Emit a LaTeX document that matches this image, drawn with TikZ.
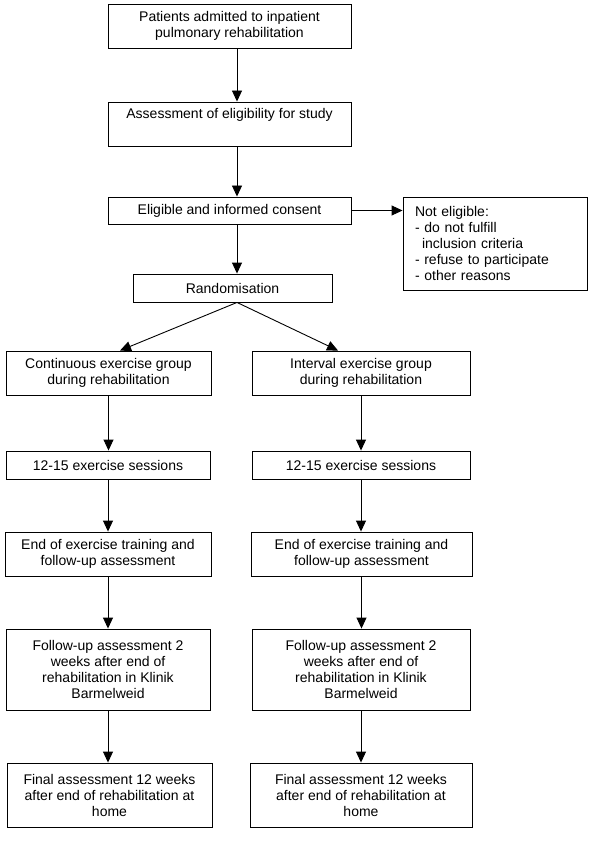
\documentclass[tikz,border=0pt]{standalone}
\usepackage{fontspec}
\setmainfont{Liberation Sans}
\usetikzlibrary{arrows.meta,calc}
\begin{document}
\begin{tikzpicture}[x=1pt,y=-1pt,
  box/.style={draw=black,line width=0.9pt,rectangle,inner sep=0pt,align=center,
    font=\fontsize{14}{16}\selectfont,text=black},
  arr/.style={draw=black,line width=0.9pt,-{Triangle[width=10pt,length=11pt]}}]
\useasboundingbox[fill=white] (0,0) rectangle (600,850);
% top column
\node[box,minimum width=243pt,minimum height=44pt] (b1) at (229.5,26)
  {Patients admitted to inpatient\\pulmonary rehabilitation};
\node[box,minimum width=243pt,minimum height=44pt] (b2) at (229.5,124)
  {Assessment of eligibility for study\\\strut};
\node[box,minimum width=243pt,minimum height=27pt] (b3) at (229.5,210.5)
  {Eligible and informed consent};
\node[box,align=left,text width=160pt,minimum width=184pt,minimum height=93pt] (ne) at (495,243.5)
  {Not eligible:\\- do not fulfill\\\hspace*{7pt}inclusion criteria\\- refuse to participate\\- other reasons};
\node[box,minimum width=199pt,minimum height=28pt] (rnd) at (232.5,288)
  {Randomisation};
% left column
\node[box,minimum width=205pt,minimum height=44pt] (cl) at (108.5,373)
  {Continuous exercise group\\during rehabilitation};
\node[box,minimum width=204pt,minimum height=28pt] (sl) at (108,465)
  {12-15 exercise sessions};
\node[box,minimum width=206pt,minimum height=44pt] (el) at (108,554)
  {End of exercise training and\\follow-up assessment};
\node[box,minimum width=204pt,minimum height=81pt] (fl) at (108,669.5)
  {Follow-up assessment 2\\weeks after end of\\rehabilitation in Klinik\\Barmelweid};
\node[box,minimum width=205pt,minimum height=64pt] (gl) at (109.5,795)
  {Final assessment 12 weeks\\after end of rehabilitation at\\home};
% right column
\node[box,minimum width=218pt,minimum height=44pt] (cr) at (361,373)
  {Interval exercise group\\during rehabilitation};
\node[box,minimum width=218pt,minimum height=28pt] (sr) at (361,465)
  {12-15 exercise sessions};
\node[box,minimum width=221pt,minimum height=44pt] (er) at (361.5,554)
  {End of exercise training and\\follow-up assessment};
\node[box,minimum width=218pt,minimum height=81pt] (fr) at (361,669.5)
  {Follow-up assessment 2\\weeks after end of\\rehabilitation in Klinik\\Barmelweid};
\node[box,minimum width=222pt,minimum height=64pt] (gr) at (361,795)
  {Final assessment 12 weeks\\after end of rehabilitation at\\home};
% connectors
\coordinate (sp) at (237,0);
\draw[arr] (b1.south -| sp) -- (b2.north -| sp);
\draw[arr] (b2.south -| sp) -- (b3.north -| sp);
\draw[arr] (b3.south -| sp) -- (rnd.north -| sp);
\draw[arr] (b3.east) -- (b3.east -| ne.west);
\draw[arr] (rnd.south -| sp) -- ($(cl.north)+(11.5,0)$);
\draw[arr] (rnd.south -| sp) -- ($(cr.north)+(-23,0)$);
\draw[arr] (cl.south) -- (cl.south |- sl.north);
\draw[arr] (sl.south) -- (sl.south |- el.north);
\draw[arr] (el.south) -- (el.south |- fl.north);
\draw[arr] (fl.south) -- (fl.south |- gl.north);
\draw[arr] (cr.south) -- (cr.south |- sr.north);
\draw[arr] (sr.south) -- (sr.south |- er.north);
\draw[arr] (er.south) -- (er.south |- fr.north);
\draw[arr] (fr.south) -- (fr.south |- gr.north);
\end{tikzpicture}
\end{document}
